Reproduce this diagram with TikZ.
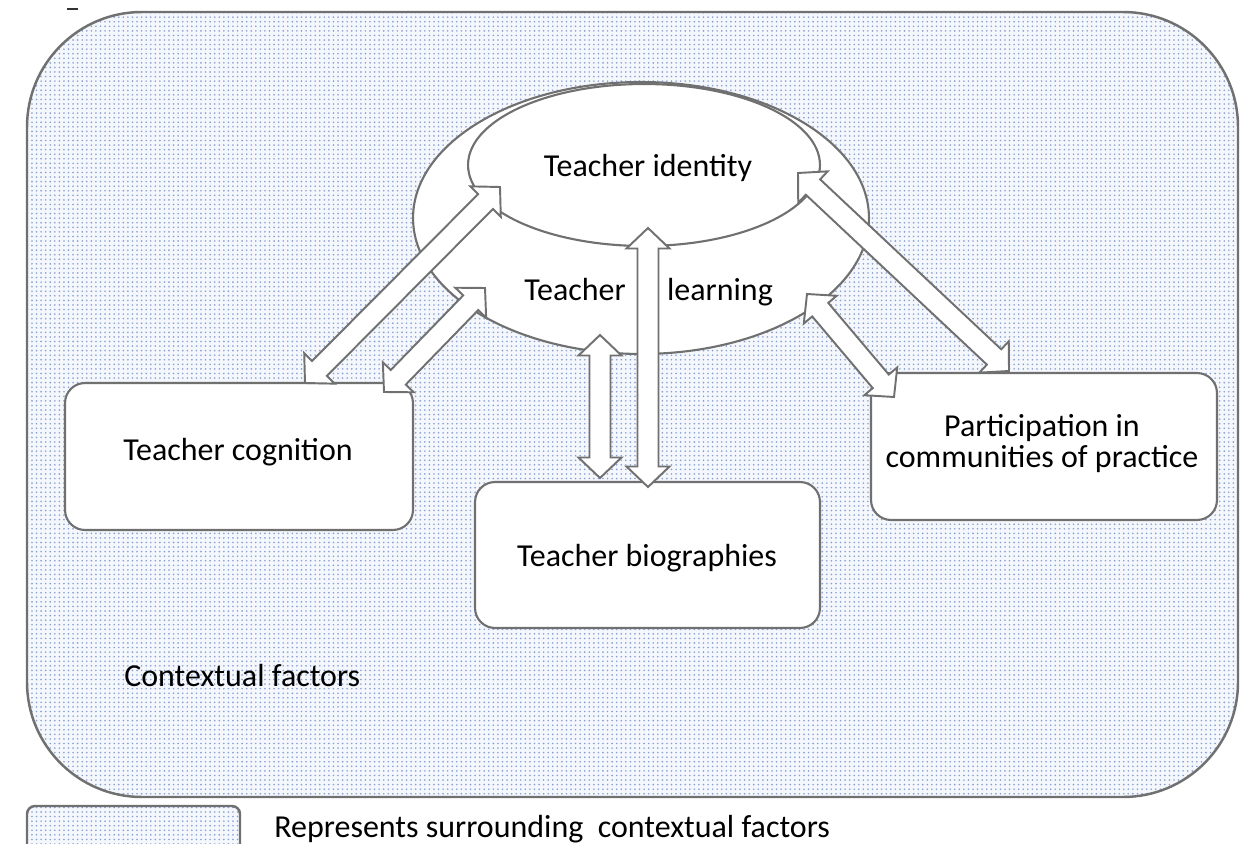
\documentclass[tikz,border=0pt]{standalone}
\usepackage{fontspec}
\setmainfont{Carlito}
\usetikzlibrary{calc,shapes.geometric,patterns.meta}
\definecolor{edge}{RGB}{112,112,112}
\definecolor{dotblue}{RGB}{140,160,208}
\definecolor{bgtone}{RGB}{244,247,252}
\def\baSW{0.21cm}
\def\baHW{0.43cm}
\def\baHL{0.41cm}
\newcommand\blockarrow[2]{%
  \draw[barrow] (#1) -- ($(#1)!\baHL!(#2)!\baHW!90:(#2)$) -- ($(#1)!\baHL!(#2)!\baSW!90:(#2)$)
   -- ($(#2)!\baHL!(#1)!\baSW!-90:(#1)$) -- ($(#2)!\baHL!(#1)!\baHW!-90:(#1)$) -- (#2)
   -- ($(#2)!\baHL!(#1)!\baHW!90:(#1)$) -- ($(#2)!\baHL!(#1)!\baSW!90:(#1)$)
   -- ($(#1)!\baHL!(#2)!\baSW!-90:(#2)$) -- ($(#1)!\baHL!(#2)!\baHW!-90:(#2)$) -- cycle;}
\tikzset{
  dotted area/.style={draw=edge, line width=1.4pt, preaction={fill=bgtone},
      pattern={Dots[radius=0.52pt,distance=2.6pt]}, pattern color=dotblue},
  ell/.style={ellipse, draw=edge, fill=white, line width=1.2pt, inner sep=0pt},
  box/.style={rectangle, rounded corners=0.4cm, draw=edge, fill=white, line width=1.2pt,
      inner sep=0pt, align=center},
  barrow/.style={draw=edge, fill=white, line width=1.1pt, line join=miter},
  lbl/.style={inner sep=0pt, anchor=base, font=\fontsize{18.2}{17.6}\selectfont},
}
\begin{document}
\begin{tikzpicture}[x=0.02cm, y=-0.02cm]
\path[use as bounding box] (0,0) rectangle (1244,844);
\clip (0,0) rectangle (1244,844);
\fill[white] (0,0) rectangle (1244,844);
% surrounding context
\path[dotted area, rounded corners=2.3cm] (27,12) rectangle (1238,797);
\path[dotted area, rounded corners=0.16cm] (27,806) rectangle (240,870);
\draw[black!80, line width=1pt] (67,9) -- (78,9);
% ellipses
\node[ell, minimum width=9.12cm, minimum height=5.44cm] (learn) at (641,218) {};
\node[ell, minimum width=7.04cm, minimum height=3.24cm] (ident) at (644,165) {};
% boxes
\node[box, minimum width=6.96cm, minimum height=2.94cm] (cog) at (239,456.5) {};
\node[box, minimum width=6.9cm, minimum height=2.92cm] (bio) at (647.5,555) {};
\node[box, minimum width=6.92cm, minimum height=2.94cm] (part) at (1044,446.5) {};
% texts
\node[lbl] (tid) at (648,177) {Teacher identity};
\node[lbl] (tl1) at (575,301) {Teacher};
\node[lbl] (tl2) at (720,301) {learning};
\node[lbl] (tcog) at (238,460) {Teacher cognition};
\node[lbl] (tbio) at (647,566) {Teacher biographies};
\node[lbl, align=center] (tpart) at (1042,467) {Participation in\\communities of practice};
\node[lbl, anchor=base west] (ctx) at (124,686) {Contextual factors};
\node[lbl, anchor=base west] (leg) at (274,837) {Represents surrounding\ \ contextual factors};
% arrow end points
\coordinate (a1s) at (305,383); \coordinate (a1e) at (500,187);
\coordinate (a2s) at (384,392); \coordinate (a2e) at (485,288);
\coordinate (a3s) at (600,478); \coordinate (a3e) at (600,335);
\coordinate (a4s) at (648,487); \coordinate (a4e) at (648,228);
\coordinate (a5s) at (894,397); \coordinate (a5e) at (807,294);
\coordinate (a6s) at (1009,371); \coordinate (a6e) at (798,173);
\blockarrow{a1s}{a1e}
\blockarrow{a2s}{a2e}
\blockarrow{a3s}{a3e}
\blockarrow{a4s}{a4e}
\blockarrow{a5s}{a5e}
\blockarrow{a6s}{a6e}
\end{tikzpicture}
\end{document}
